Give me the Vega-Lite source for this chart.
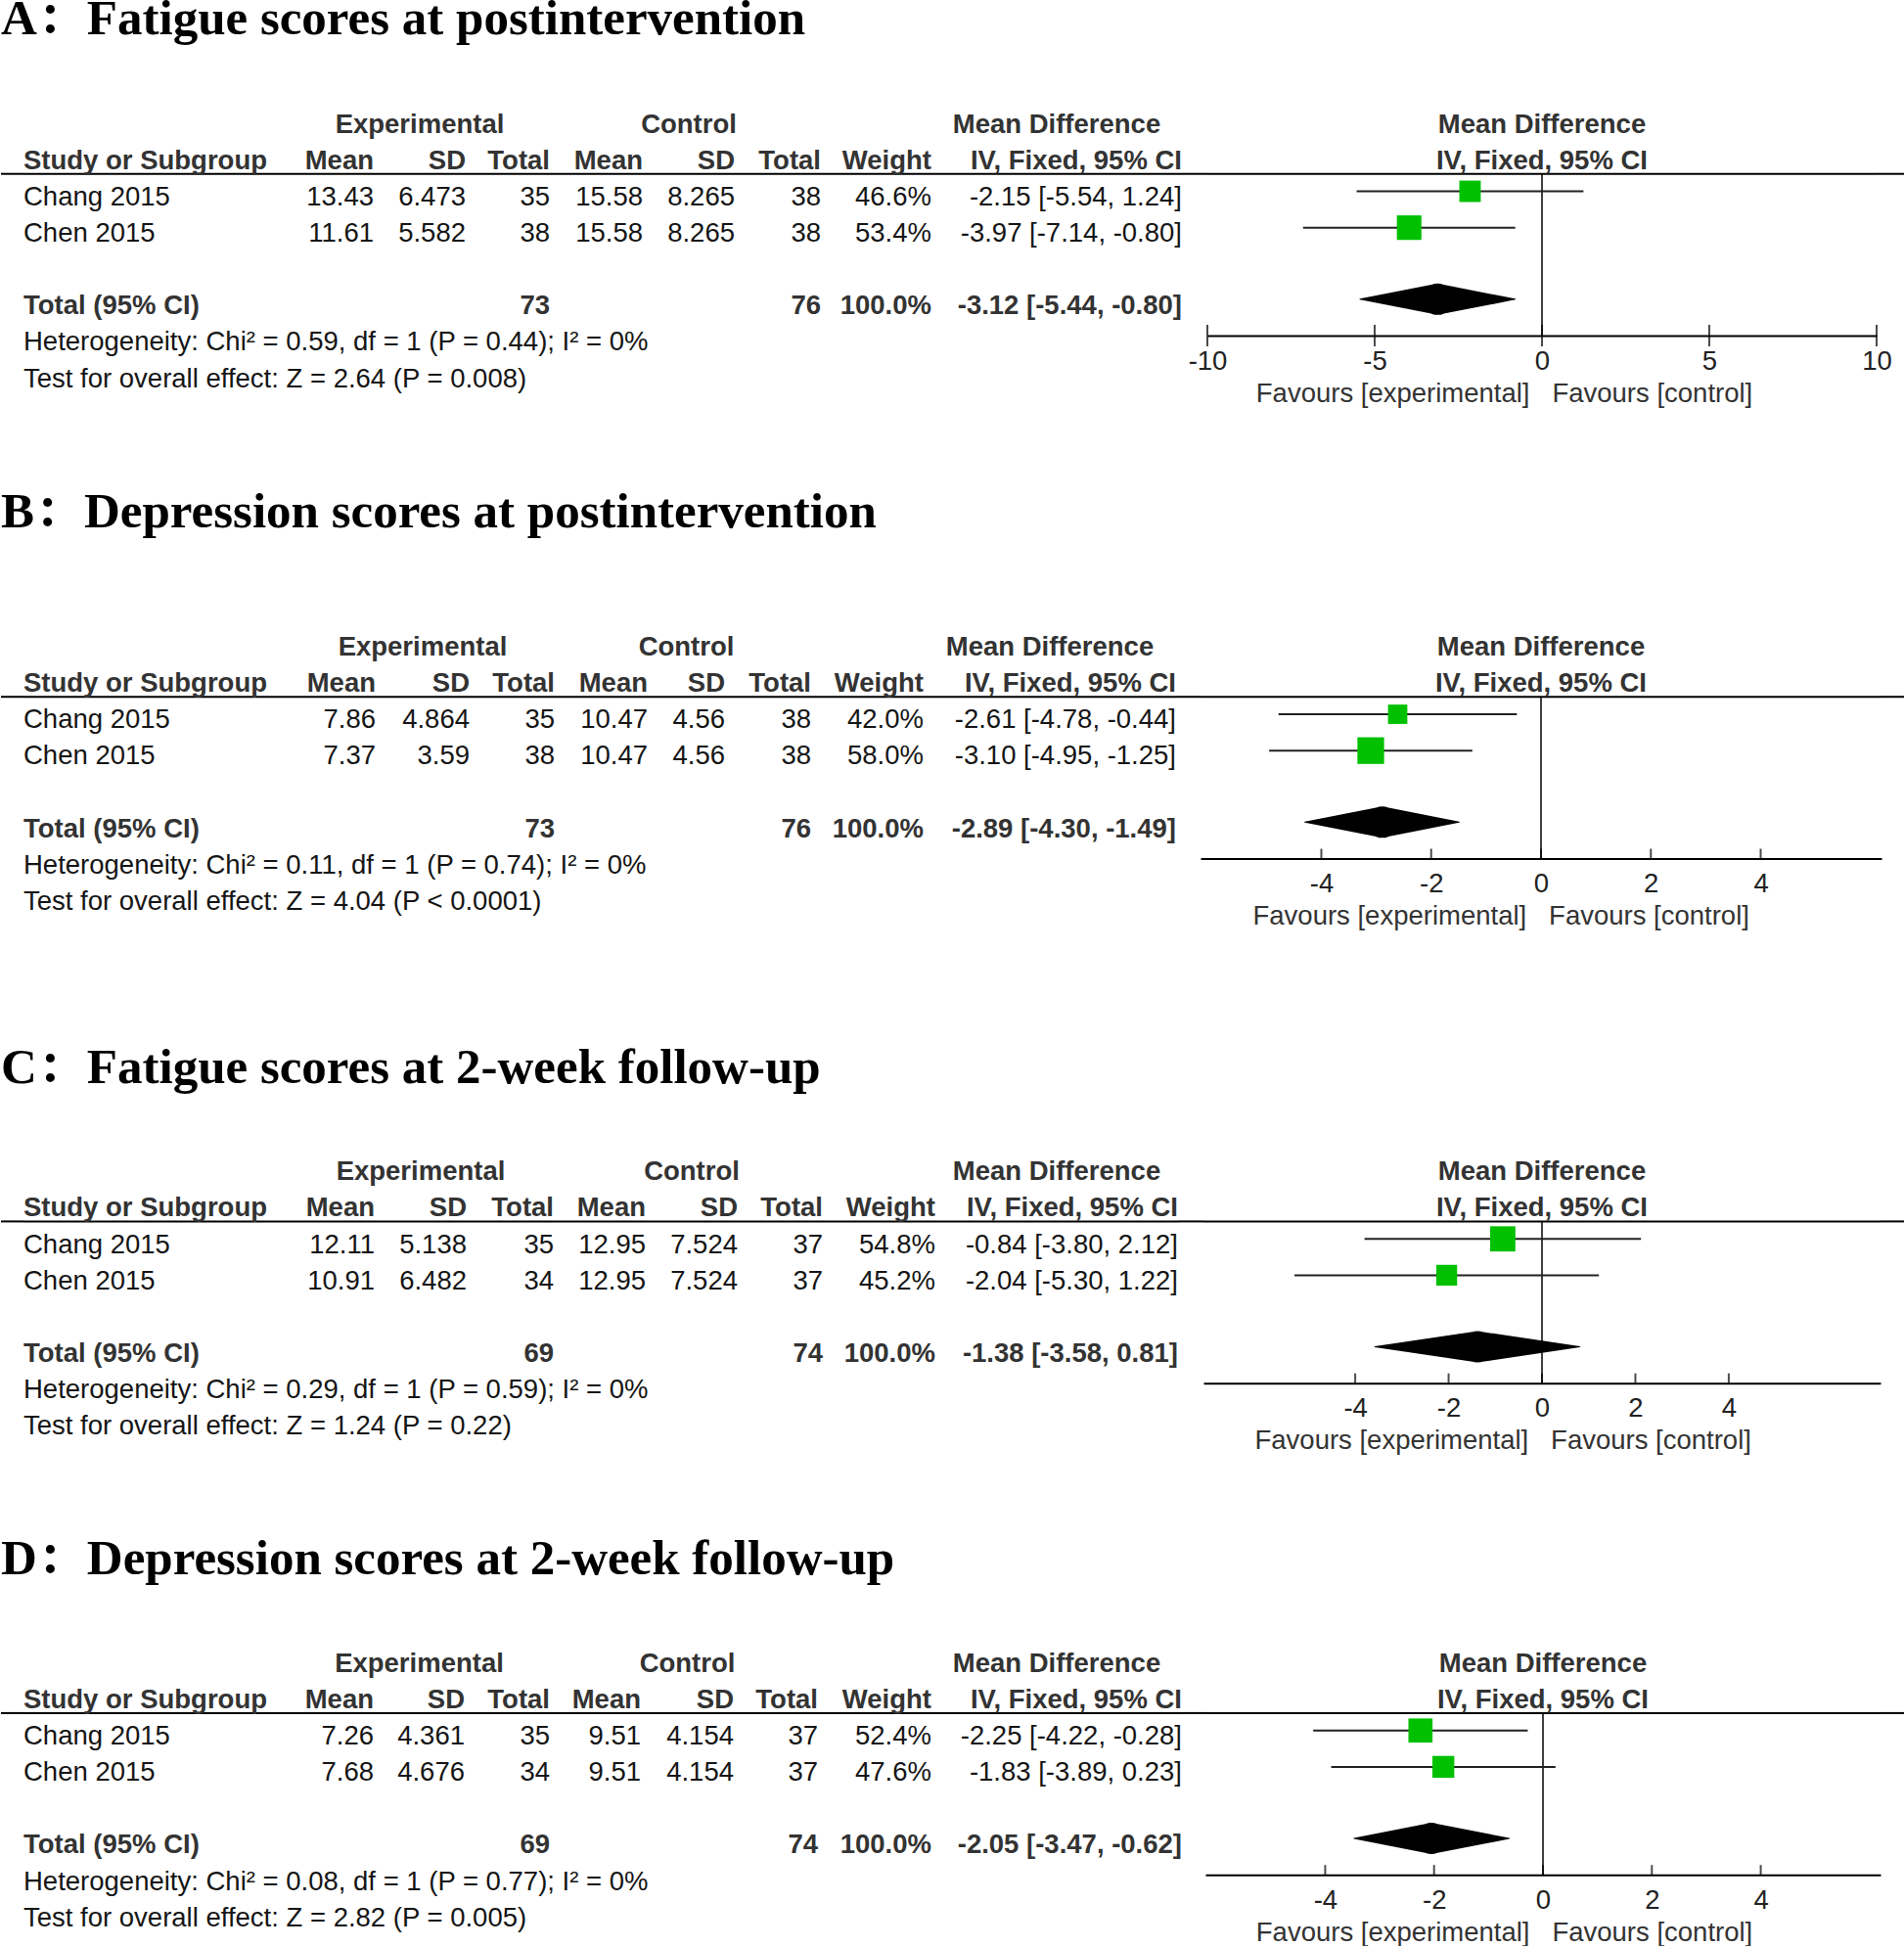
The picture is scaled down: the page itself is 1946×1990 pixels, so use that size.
{
"$schema":"https://vega.github.io/schema/vega-lite/v6.json",
"padding":{"top":-6,"left":0,"right":0,"bottom":0},
"background":"white",
"config":{
 "view":{"stroke":null},
 "text":{"font":"Liberation Sans","fontSize":27.5,"baseline":"middle","color":"#151515"},
 "title":{"font":"Liberation Serif, Noto Serif CJK SC, Noto Sans CJK SC, serif","fontSize":51,"fontWeight":"bold","color":"#000","anchor":"start","frame":"group","baseline":"alphabetic"},
 "axis":{"domainColor":"#000","domainWidth":2,"ticks":false,"grid":false,"labelFont":"Liberation Sans","labelFontSize":27.5,"labelColor":"#222","labelPadding":12,"labelFlush":false,"labelOverlap":false,"titleFont":"Liberation Sans","titleFontSize":27.5,"titleFontWeight":"normal","titleColor":"#333","titleBaseline":"top","titleAlign":"center"}
},
"datasets":{
 "header":[
  {"row":"group header","study":"","e_sd":"Experimental","c_sd":"Control","ci":"Mean Difference","plot":"Mean Difference"},
  {"row":"column header","study":"Study or Subgroup","e_mean":"Mean","e_sd":"SD","e_total":"Total","c_mean":"Mean","c_sd":"SD","c_total":"Total","weight":"Weight","ci":"IV, Fixed, 95% CI","plot":"IV, Fixed, 95% CI"}
 ],
 "studies":[
  {"panel":"A","row":"Chang 2015","e_mean":13.43,"e_sd":6.473,"e_total":35,"c_mean":15.58,"c_sd":8.265,"c_total":38,"weight":0.466,"ci":"-2.15 [-5.54, 1.24]","md":-2.15,"lo":-5.54,"hi":1.24},
  {"panel":"A","row":"Chen 2015","e_mean":11.61,"e_sd":5.582,"e_total":38,"c_mean":15.58,"c_sd":8.265,"c_total":38,"weight":0.534,"ci":"-3.97 [-7.14, -0.80]","md":-3.97,"lo":-7.14,"hi":-0.8},
  {"panel":"B","row":"Chang 2015","e_mean":7.86,"e_sd":4.864,"e_total":35,"c_mean":10.47,"c_sd":4.56,"c_total":38,"weight":0.42,"ci":"-2.61 [-4.78, -0.44]","md":-2.61,"lo":-4.78,"hi":-0.44},
  {"panel":"B","row":"Chen 2015","e_mean":7.37,"e_sd":3.59,"e_total":38,"c_mean":10.47,"c_sd":4.56,"c_total":38,"weight":0.58,"ci":"-3.10 [-4.95, -1.25]","md":-3.1,"lo":-4.95,"hi":-1.25},
  {"panel":"C","row":"Chang 2015","e_mean":12.11,"e_sd":5.138,"e_total":35,"c_mean":12.95,"c_sd":7.524,"c_total":37,"weight":0.548,"ci":"-0.84 [-3.80, 2.12]","md":-0.84,"lo":-3.8,"hi":2.12},
  {"panel":"C","row":"Chen 2015","e_mean":10.91,"e_sd":6.482,"e_total":34,"c_mean":12.95,"c_sd":7.524,"c_total":37,"weight":0.452,"ci":"-2.04 [-5.30, 1.22]","md":-2.04,"lo":-5.3,"hi":1.22},
  {"panel":"D","row":"Chang 2015","e_mean":7.26,"e_sd":4.361,"e_total":35,"c_mean":9.51,"c_sd":4.154,"c_total":37,"weight":0.524,"ci":"-2.25 [-4.22, -0.28]","md":-2.25,"lo":-4.22,"hi":-0.28},
  {"panel":"D","row":"Chen 2015","e_mean":7.68,"e_sd":4.676,"e_total":34,"c_mean":9.51,"c_sd":4.154,"c_total":37,"weight":0.476,"ci":"-1.83 [-3.89, 0.23]","md":-1.83,"lo":-3.89,"hi":0.23}
 ],
 "totals":[
  {"panel":"A","row":"Total (95% CI)","e_total":73,"c_total":76,"weight":1,"ci":"-3.12 [-5.44, -0.80]","md":-3.12,"lo":-5.44,"hi":-0.8},
  {"panel":"B","row":"Total (95% CI)","e_total":73,"c_total":76,"weight":1,"ci":"-2.89 [-4.30, -1.49]","md":-2.89,"lo":-4.3,"hi":-1.49},
  {"panel":"C","row":"Total (95% CI)","e_total":69,"c_total":74,"weight":1,"ci":"-1.38 [-3.58, 0.81]","md":-1.38,"lo":-3.58,"hi":0.81},
  {"panel":"D","row":"Total (95% CI)","e_total":69,"c_total":74,"weight":1,"ci":"-2.05 [-3.47, -0.62]","md":-2.05,"lo":-3.47,"hi":-0.62}
 ],
 "notes":[
  {"panel":"A","row":"Heterogeneity","text":"Heterogeneity: Chi² = 0.59, df = 1 (P = 0.44); I² = 0%"},
  {"panel":"A","row":"Overall effect","text":"Test for overall effect: Z = 2.64 (P = 0.008)"},
  {"panel":"B","row":"Heterogeneity","text":"Heterogeneity: Chi² = 0.11, df = 1 (P = 0.74); I² = 0%"},
  {"panel":"B","row":"Overall effect","text":"Test for overall effect: Z = 4.04 (P < 0.0001)"},
  {"panel":"C","row":"Heterogeneity","text":"Heterogeneity: Chi² = 0.29, df = 1 (P = 0.59); I² = 0%"},
  {"panel":"C","row":"Overall effect","text":"Test for overall effect: Z = 1.24 (P = 0.22)"},
  {"panel":"D","row":"Heterogeneity","text":"Heterogeneity: Chi² = 0.08, df = 1 (P = 0.77); I² = 0%"},
  {"panel":"D","row":"Overall effect","text":"Test for overall effect: Z = 2.82 (P = 0.005)"}
 ]
},
"spacing":81.5,
"vconcat":[
{
 "title":{"text":"A：Fatigue scores at postintervention","offset":63},
 "spacing":0,"bounds":"flush",
 "hconcat":[
  {"width":23,"height":297.12,"data":{"name":"header"},"transform":[{"filter":"datum.row=='column header'"}],"mark":{"type":"rule","color":"#000","strokeWidth":2},"encoding":{"y":{"field":"row","type":"nominal","axis":null,"bandPosition":0.85,"scale":{"type":"band","domain":["group header","column header","Chang 2015","Chen 2015","spacer","Total (95% CI)","Heterogeneity","Overall effect"],"range":[0,297.12],"paddingInner":0,"paddingOuter":0}}}},
  {"width":264,"height":297.12,"encoding":{"y":{"field":"row","type":"nominal","axis":null,"scale":{"type":"band","domain":["group header","column header","Chang 2015","Chen 2015","spacer","Total (95% CI)","Heterogeneity","Overall effect"],"range":[0,297.12],"paddingInner":0,"paddingOuter":0}}},"layer":[
    {"data":{"name":"header"},"transform":[{"filter":"datum.row=='column header'"}],"mark":{"type":"rule","color":"#000","strokeWidth":2},"encoding":{"y":{"field":"row","type":"nominal","axis":null,"bandPosition":0.85}}},
    {"data":{"name":"header"},"mark":{"type":"text","align":"left","fontWeight":"bold","color":"#333"},"encoding":{"x":{"value":0},"text":{"field":"study","type":"nominal"}}},
    {"data":{"name":"studies"},"transform":[{"filter":"datum.panel=='A'"}],"mark":{"type":"text","align":"left"},"encoding":{"x":{"value":0},"text":{"field":"row","type":"nominal"}}},
    {"data":{"name":"totals"},"transform":[{"filter":"datum.panel=='A'"}],"mark":{"type":"text","align":"left","fontWeight":"bold","color":"#333"},"encoding":{"x":{"value":0},"text":{"field":"row","type":"nominal"}}},
    {"data":{"name":"notes"},"transform":[{"filter":"datum.panel=='A'"}],"mark":{"type":"text","align":"left"},"encoding":{"x":{"value":0},"text":{"field":"text","type":"nominal"}}}]},
  {"width":94,"height":297.12,"encoding":{"y":{"field":"row","type":"nominal","axis":null,"scale":{"type":"band","domain":["group header","column header","Chang 2015","Chen 2015","spacer","Total (95% CI)","Heterogeneity","Overall effect"],"range":[0,297.12],"paddingInner":0,"paddingOuter":0}}},"layer":[
    {"data":{"name":"header"},"transform":[{"filter":"datum.row=='column header'"}],"mark":{"type":"rule","color":"#000","strokeWidth":2},"encoding":{"y":{"field":"row","type":"nominal","axis":null,"bandPosition":0.85}}},
    {"data":{"name":"header"},"transform":[{"filter":"datum.row=='column header'"}],"mark":{"type":"text","align":"right","fontWeight":"bold","color":"#333"},"encoding":{"x":{"value":"width"},"text":{"field":"e_mean","type":"nominal"}}},
    {"data":{"name":"studies"},"transform":[{"filter":"datum.panel=='A'"}],"mark":{"type":"text","align":"right"},"encoding":{"x":{"value":"width"},"text":{"field":"e_mean","type":"nominal"}}}]},
  {"width":94,"height":297.12,"encoding":{"y":{"field":"row","type":"nominal","axis":null,"scale":{"type":"band","domain":["group header","column header","Chang 2015","Chen 2015","spacer","Total (95% CI)","Heterogeneity","Overall effect"],"range":[0,297.12],"paddingInner":0,"paddingOuter":0}}},"layer":[
    {"data":{"name":"header"},"transform":[{"filter":"datum.row=='column header'"}],"mark":{"type":"rule","color":"#000","strokeWidth":2},"encoding":{"y":{"field":"row","type":"nominal","axis":null,"bandPosition":0.85}}},
    {"data":{"name":"header"},"transform":[{"filter":"datum.row=='group header'"}],"mark":{"type":"text","fontWeight":"bold","color":"#333"},"encoding":{"text":{"field":"e_sd","type":"nominal"}}},
    {"data":{"name":"header"},"transform":[{"filter":"datum.row=='column header'"}],"mark":{"type":"text","align":"right","fontWeight":"bold","color":"#333"},"encoding":{"x":{"value":"width"},"text":{"field":"e_sd","type":"nominal"}}},
    {"data":{"name":"studies"},"transform":[{"filter":"datum.panel=='A'"}],"mark":{"type":"text","align":"right"},"encoding":{"x":{"value":"width"},"text":{"field":"e_sd","type":"nominal"}}}]},
  {"width":86,"height":297.12,"encoding":{"y":{"field":"row","type":"nominal","axis":null,"scale":{"type":"band","domain":["group header","column header","Chang 2015","Chen 2015","spacer","Total (95% CI)","Heterogeneity","Overall effect"],"range":[0,297.12],"paddingInner":0,"paddingOuter":0}}},"layer":[
    {"data":{"name":"header"},"transform":[{"filter":"datum.row=='column header'"}],"mark":{"type":"rule","color":"#000","strokeWidth":2},"encoding":{"y":{"field":"row","type":"nominal","axis":null,"bandPosition":0.85}}},
    {"data":{"name":"header"},"transform":[{"filter":"datum.row=='column header'"}],"mark":{"type":"text","align":"right","fontWeight":"bold","color":"#333"},"encoding":{"x":{"value":"width"},"text":{"field":"e_total","type":"nominal"}}},
    {"data":{"name":"studies"},"transform":[{"filter":"datum.panel=='A'"}],"mark":{"type":"text","align":"right"},"encoding":{"x":{"value":"width"},"text":{"field":"e_total","type":"nominal"}}},
    {"data":{"name":"totals"},"transform":[{"filter":"datum.panel=='A'"}],"mark":{"type":"text","align":"right","fontWeight":"bold","color":"#333"},"encoding":{"x":{"value":"width"},"text":{"field":"e_total","type":"nominal"}}}]},
  {"width":95,"height":297.12,"encoding":{"y":{"field":"row","type":"nominal","axis":null,"scale":{"type":"band","domain":["group header","column header","Chang 2015","Chen 2015","spacer","Total (95% CI)","Heterogeneity","Overall effect"],"range":[0,297.12],"paddingInner":0,"paddingOuter":0}}},"layer":[
    {"data":{"name":"header"},"transform":[{"filter":"datum.row=='column header'"}],"mark":{"type":"rule","color":"#000","strokeWidth":2},"encoding":{"y":{"field":"row","type":"nominal","axis":null,"bandPosition":0.85}}},
    {"data":{"name":"header"},"transform":[{"filter":"datum.row=='column header'"}],"mark":{"type":"text","align":"right","fontWeight":"bold","color":"#333"},"encoding":{"x":{"value":"width"},"text":{"field":"c_mean","type":"nominal"}}},
    {"data":{"name":"studies"},"transform":[{"filter":"datum.panel=='A'"}],"mark":{"type":"text","align":"right"},"encoding":{"x":{"value":"width"},"text":{"field":"c_mean","type":"nominal"}}}]},
  {"width":94,"height":297.12,"encoding":{"y":{"field":"row","type":"nominal","axis":null,"scale":{"type":"band","domain":["group header","column header","Chang 2015","Chen 2015","spacer","Total (95% CI)","Heterogeneity","Overall effect"],"range":[0,297.12],"paddingInner":0,"paddingOuter":0}}},"layer":[
    {"data":{"name":"header"},"transform":[{"filter":"datum.row=='column header'"}],"mark":{"type":"rule","color":"#000","strokeWidth":2},"encoding":{"y":{"field":"row","type":"nominal","axis":null,"bandPosition":0.85}}},
    {"data":{"name":"header"},"transform":[{"filter":"datum.row=='group header'"}],"mark":{"type":"text","fontWeight":"bold","color":"#333"},"encoding":{"text":{"field":"c_sd","type":"nominal"}}},
    {"data":{"name":"header"},"transform":[{"filter":"datum.row=='column header'"}],"mark":{"type":"text","align":"right","fontWeight":"bold","color":"#333"},"encoding":{"x":{"value":"width"},"text":{"field":"c_sd","type":"nominal"}}},
    {"data":{"name":"studies"},"transform":[{"filter":"datum.panel=='A'"}],"mark":{"type":"text","align":"right"},"encoding":{"x":{"value":"width"},"text":{"field":"c_sd","type":"nominal"}}}]},
  {"width":88,"height":297.12,"encoding":{"y":{"field":"row","type":"nominal","axis":null,"scale":{"type":"band","domain":["group header","column header","Chang 2015","Chen 2015","spacer","Total (95% CI)","Heterogeneity","Overall effect"],"range":[0,297.12],"paddingInner":0,"paddingOuter":0}}},"layer":[
    {"data":{"name":"header"},"transform":[{"filter":"datum.row=='column header'"}],"mark":{"type":"rule","color":"#000","strokeWidth":2},"encoding":{"y":{"field":"row","type":"nominal","axis":null,"bandPosition":0.85}}},
    {"data":{"name":"header"},"transform":[{"filter":"datum.row=='column header'"}],"mark":{"type":"text","align":"right","fontWeight":"bold","color":"#333"},"encoding":{"x":{"value":"width"},"text":{"field":"c_total","type":"nominal"}}},
    {"data":{"name":"studies"},"transform":[{"filter":"datum.panel=='A'"}],"mark":{"type":"text","align":"right"},"encoding":{"x":{"value":"width"},"text":{"field":"c_total","type":"nominal"}}},
    {"data":{"name":"totals"},"transform":[{"filter":"datum.panel=='A'"}],"mark":{"type":"text","align":"right","fontWeight":"bold","color":"#333"},"encoding":{"x":{"value":"width"},"text":{"field":"c_total","type":"nominal"}}}]},
  {"width":113,"height":297.12,"encoding":{"y":{"field":"row","type":"nominal","axis":null,"scale":{"type":"band","domain":["group header","column header","Chang 2015","Chen 2015","spacer","Total (95% CI)","Heterogeneity","Overall effect"],"range":[0,297.12],"paddingInner":0,"paddingOuter":0}}},"layer":[
    {"data":{"name":"header"},"transform":[{"filter":"datum.row=='column header'"}],"mark":{"type":"rule","color":"#000","strokeWidth":2},"encoding":{"y":{"field":"row","type":"nominal","axis":null,"bandPosition":0.85}}},
    {"data":{"name":"header"},"transform":[{"filter":"datum.row=='column header'"}],"mark":{"type":"text","align":"right","fontWeight":"bold","color":"#333"},"encoding":{"x":{"value":"width"},"text":{"field":"weight","type":"nominal"}}},
    {"data":{"name":"studies"},"transform":[{"filter":"datum.panel=='A'"}],"mark":{"type":"text","align":"right"},"encoding":{"x":{"value":"width"},"text":{"field":"weight","type":"quantitative","format":".1%"}}},
    {"data":{"name":"totals"},"transform":[{"filter":"datum.panel=='A'"}],"mark":{"type":"text","align":"right","fontWeight":"bold","color":"#333"},"encoding":{"x":{"value":"width"},"text":{"field":"weight","type":"quantitative","format":".1%"}}}]},
  {"width":256,"height":297.12,"encoding":{"y":{"field":"row","type":"nominal","axis":null,"scale":{"type":"band","domain":["group header","column header","Chang 2015","Chen 2015","spacer","Total (95% CI)","Heterogeneity","Overall effect"],"range":[0,297.12],"paddingInner":0,"paddingOuter":0}}},"layer":[
    {"data":{"name":"header"},"transform":[{"filter":"datum.row=='column header'"}],"mark":{"type":"rule","color":"#000","strokeWidth":2},"encoding":{"y":{"field":"row","type":"nominal","axis":null,"bandPosition":0.85}}},
    {"data":{"name":"header"},"transform":[{"filter":"datum.row=='group header'"}],"mark":{"type":"text","fontWeight":"bold","color":"#333"},"encoding":{"text":{"field":"ci","type":"nominal"}}},
    {"data":{"name":"header"},"transform":[{"filter":"datum.row=='column header'"}],"mark":{"type":"text","align":"right","fontWeight":"bold","color":"#333"},"encoding":{"x":{"value":"width"},"text":{"field":"ci","type":"nominal"}}},
    {"data":{"name":"studies"},"transform":[{"filter":"datum.panel=='A'"}],"mark":{"type":"text","align":"right"},"encoding":{"x":{"value":"width"},"text":{"field":"ci","type":"nominal"}}},
    {"data":{"name":"totals"},"transform":[{"filter":"datum.panel=='A'"}],"mark":{"type":"text","align":"right","fontWeight":"bold","color":"#333"},"encoding":{"x":{"value":"width"},"text":{"field":"ci","type":"nominal"}}}]},
  {"width":26,"height":297.12,"data":{"name":"header"},"transform":[{"filter":"datum.row=='column header'"}],"mark":{"type":"rule","color":"#000","strokeWidth":2},"encoding":{"y":{"field":"row","type":"nominal","axis":null,"bandPosition":0.85,"scale":{"type":"band","domain":["group header","column header","Chang 2015","Chen 2015","spacer","Total (95% CI)","Heterogeneity","Overall effect"],"range":[0,297.12],"paddingInner":0,"paddingOuter":0}}}},
  {"width":684,"height":234,"resolve":{"scale":{"size":"independent"}},"encoding":{"y":{"field":"row","type":"nominal","axis":null,"scale":{"type":"band","domain":["group header","column header","Chang 2015","Chen 2015","spacer","Total (95% CI)","Heterogeneity","Overall effect"],"range":[0,297.12],"paddingInner":0,"paddingOuter":0}}},"layer":[
    {"data":{"name":"header"},"transform":[{"filter":"datum.row=='column header'"}],"mark":{"type":"rule","color":"#000","strokeWidth":2},"encoding":{"y":{"field":"row","type":"nominal","axis":null,"bandPosition":0.85}}},
    {"data":{"name":"header"},"mark":{"type":"text","fontWeight":"bold","color":"#333"},"encoding":{"text":{"field":"plot","type":"nominal"}}},
    {"data":{"name":"header"},"transform":[{"filter":"datum.row=='column header'"}],"mark":{"type":"rule","color":"#000","strokeWidth":1.5},"encoding":{"x":{"datum":0,"type":"quantitative","scale":{"domain":[-10,10],"nice":false,"zero":false}},"y":{"field":"row","type":"nominal","axis":null,"bandPosition":0.85},"y2":{"value":"height"}}},
    {"data":{"name":"studies"},"transform":[{"filter":"datum.panel=='A'"}],"mark":{"type":"rule","color":"#222","strokeWidth":2},"encoding":{"x":{"field":"lo","type":"quantitative","scale":{"domain":[-10,10],"nice":false,"zero":false},"axis":{"values":[-10,-5,0,5,10],"labelExpr":"''+datum.value","title":"Favours [experimental]\u00a0\u00a0\u00a0Favours [control]","titleX":303,"titleY":45}},"x2":{"field":"hi"},"y":{"field":"row","type":"nominal","axis":null,"bandPosition":0.33}}},
    {"data":{"name":"studies"},"transform":[{"filter":"datum.panel=='A'"}],"mark":{"type":"point","shape":"square","filled":true,"color":"#00c000","opacity":1,"strokeWidth":0},"encoding":{"x":{"field":"md","type":"quantitative","scale":{"domain":[-10,10],"nice":false,"zero":false}},"y":{"field":"row","type":"nominal","axis":null,"bandPosition":0.33},"size":{"field":"weight","type":"quantitative","scale":{"type":"pow","exponent":2,"domain":[0,1],"range":[0,2209]},"legend":null}}},
    {"data":{"name":"totals"},"transform":[{"filter":"datum.panel=='A'"},{"fold":["lo","md","hi"],"as":["vertex","x"]}],"mark":{"type":"trail","color":"#000"},"encoding":{"x":{"field":"x","type":"quantitative","scale":{"domain":[-10,10],"nice":false,"zero":false}},"y":{"field":"row","type":"nominal","axis":null,"bandPosition":0.3},"size":{"field":"vertex","type":"nominal","scale":{"type":"ordinal","domain":["lo","md","hi"],"range":[0,32,0]},"legend":null}}},
    {"data":{"values":[{"tick":-10},{"tick":-5},{"tick":0},{"tick":5},{"tick":10}]},"mark":{"type":"tick","orient":"vertical","color":"#000","thickness":2,"size":22},"encoding":{"x":{"field":"tick","type":"quantitative","scale":{"domain":[-10,10],"nice":false,"zero":false}},"y":{"value":"height"}}}]},
  {"width":29,"height":297.12,"data":{"name":"header"},"transform":[{"filter":"datum.row=='column header'"}],"mark":{"type":"rule","color":"#000","strokeWidth":2},"encoding":{"y":{"field":"row","type":"nominal","axis":null,"bandPosition":0.85,"scale":{"type":"band","domain":["group header","column header","Chang 2015","Chen 2015","spacer","Total (95% CI)","Heterogeneity","Overall effect"],"range":[0,297.12],"paddingInner":0,"paddingOuter":0}}}}
 ]
},
{"spacing":115.2,"vconcat":[
{
 "title":{"text":"B：Depression scores at postintervention","offset":93.6},
 "spacing":0,"bounds":"flush",
 "hconcat":[
  {"width":23,"height":297.12,"data":{"name":"header"},"transform":[{"filter":"datum.row=='column header'"}],"mark":{"type":"rule","color":"#000","strokeWidth":2},"encoding":{"y":{"field":"row","type":"nominal","axis":null,"bandPosition":0.85,"scale":{"type":"band","domain":["group header","column header","Chang 2015","Chen 2015","spacer","Total (95% CI)","Heterogeneity","Overall effect"],"range":[0,297.12],"paddingInner":0,"paddingOuter":0}}}},
  {"width":264,"height":297.12,"encoding":{"y":{"field":"row","type":"nominal","axis":null,"scale":{"type":"band","domain":["group header","column header","Chang 2015","Chen 2015","spacer","Total (95% CI)","Heterogeneity","Overall effect"],"range":[0,297.12],"paddingInner":0,"paddingOuter":0}}},"layer":[
    {"data":{"name":"header"},"transform":[{"filter":"datum.row=='column header'"}],"mark":{"type":"rule","color":"#000","strokeWidth":2},"encoding":{"y":{"field":"row","type":"nominal","axis":null,"bandPosition":0.85}}},
    {"data":{"name":"header"},"mark":{"type":"text","align":"left","fontWeight":"bold","color":"#333"},"encoding":{"x":{"value":0},"text":{"field":"study","type":"nominal"}}},
    {"data":{"name":"studies"},"transform":[{"filter":"datum.panel=='B'"}],"mark":{"type":"text","align":"left"},"encoding":{"x":{"value":0},"text":{"field":"row","type":"nominal"}}},
    {"data":{"name":"totals"},"transform":[{"filter":"datum.panel=='B'"}],"mark":{"type":"text","align":"left","fontWeight":"bold","color":"#333"},"encoding":{"x":{"value":0},"text":{"field":"row","type":"nominal"}}},
    {"data":{"name":"notes"},"transform":[{"filter":"datum.panel=='B'"}],"mark":{"type":"text","align":"left"},"encoding":{"x":{"value":0},"text":{"field":"text","type":"nominal"}}}]},
  {"width":96,"height":297.12,"encoding":{"y":{"field":"row","type":"nominal","axis":null,"scale":{"type":"band","domain":["group header","column header","Chang 2015","Chen 2015","spacer","Total (95% CI)","Heterogeneity","Overall effect"],"range":[0,297.12],"paddingInner":0,"paddingOuter":0}}},"layer":[
    {"data":{"name":"header"},"transform":[{"filter":"datum.row=='column header'"}],"mark":{"type":"rule","color":"#000","strokeWidth":2},"encoding":{"y":{"field":"row","type":"nominal","axis":null,"bandPosition":0.85}}},
    {"data":{"name":"header"},"transform":[{"filter":"datum.row=='column header'"}],"mark":{"type":"text","align":"right","fontWeight":"bold","color":"#333"},"encoding":{"x":{"value":"width"},"text":{"field":"e_mean","type":"nominal"}}},
    {"data":{"name":"studies"},"transform":[{"filter":"datum.panel=='B'"}],"mark":{"type":"text","align":"right"},"encoding":{"x":{"value":"width"},"text":{"field":"e_mean","type":"nominal"}}}]},
  {"width":96,"height":297.12,"encoding":{"y":{"field":"row","type":"nominal","axis":null,"scale":{"type":"band","domain":["group header","column header","Chang 2015","Chen 2015","spacer","Total (95% CI)","Heterogeneity","Overall effect"],"range":[0,297.12],"paddingInner":0,"paddingOuter":0}}},"layer":[
    {"data":{"name":"header"},"transform":[{"filter":"datum.row=='column header'"}],"mark":{"type":"rule","color":"#000","strokeWidth":2},"encoding":{"y":{"field":"row","type":"nominal","axis":null,"bandPosition":0.85}}},
    {"data":{"name":"header"},"transform":[{"filter":"datum.row=='group header'"}],"mark":{"type":"text","fontWeight":"bold","color":"#333"},"encoding":{"text":{"field":"e_sd","type":"nominal"}}},
    {"data":{"name":"header"},"transform":[{"filter":"datum.row=='column header'"}],"mark":{"type":"text","align":"right","fontWeight":"bold","color":"#333"},"encoding":{"x":{"value":"width"},"text":{"field":"e_sd","type":"nominal"}}},
    {"data":{"name":"studies"},"transform":[{"filter":"datum.panel=='B'"}],"mark":{"type":"text","align":"right"},"encoding":{"x":{"value":"width"},"text":{"field":"e_sd","type":"nominal"}}}]},
  {"width":87,"height":297.12,"encoding":{"y":{"field":"row","type":"nominal","axis":null,"scale":{"type":"band","domain":["group header","column header","Chang 2015","Chen 2015","spacer","Total (95% CI)","Heterogeneity","Overall effect"],"range":[0,297.12],"paddingInner":0,"paddingOuter":0}}},"layer":[
    {"data":{"name":"header"},"transform":[{"filter":"datum.row=='column header'"}],"mark":{"type":"rule","color":"#000","strokeWidth":2},"encoding":{"y":{"field":"row","type":"nominal","axis":null,"bandPosition":0.85}}},
    {"data":{"name":"header"},"transform":[{"filter":"datum.row=='column header'"}],"mark":{"type":"text","align":"right","fontWeight":"bold","color":"#333"},"encoding":{"x":{"value":"width"},"text":{"field":"e_total","type":"nominal"}}},
    {"data":{"name":"studies"},"transform":[{"filter":"datum.panel=='B'"}],"mark":{"type":"text","align":"right"},"encoding":{"x":{"value":"width"},"text":{"field":"e_total","type":"nominal"}}},
    {"data":{"name":"totals"},"transform":[{"filter":"datum.panel=='B'"}],"mark":{"type":"text","align":"right","fontWeight":"bold","color":"#333"},"encoding":{"x":{"value":"width"},"text":{"field":"e_total","type":"nominal"}}}]},
  {"width":95,"height":297.12,"encoding":{"y":{"field":"row","type":"nominal","axis":null,"scale":{"type":"band","domain":["group header","column header","Chang 2015","Chen 2015","spacer","Total (95% CI)","Heterogeneity","Overall effect"],"range":[0,297.12],"paddingInner":0,"paddingOuter":0}}},"layer":[
    {"data":{"name":"header"},"transform":[{"filter":"datum.row=='column header'"}],"mark":{"type":"rule","color":"#000","strokeWidth":2},"encoding":{"y":{"field":"row","type":"nominal","axis":null,"bandPosition":0.85}}},
    {"data":{"name":"header"},"transform":[{"filter":"datum.row=='column header'"}],"mark":{"type":"text","align":"right","fontWeight":"bold","color":"#333"},"encoding":{"x":{"value":"width"},"text":{"field":"c_mean","type":"nominal"}}},
    {"data":{"name":"studies"},"transform":[{"filter":"datum.panel=='B'"}],"mark":{"type":"text","align":"right"},"encoding":{"x":{"value":"width"},"text":{"field":"c_mean","type":"nominal"}}}]},
  {"width":79,"height":297.12,"encoding":{"y":{"field":"row","type":"nominal","axis":null,"scale":{"type":"band","domain":["group header","column header","Chang 2015","Chen 2015","spacer","Total (95% CI)","Heterogeneity","Overall effect"],"range":[0,297.12],"paddingInner":0,"paddingOuter":0}}},"layer":[
    {"data":{"name":"header"},"transform":[{"filter":"datum.row=='column header'"}],"mark":{"type":"rule","color":"#000","strokeWidth":2},"encoding":{"y":{"field":"row","type":"nominal","axis":null,"bandPosition":0.85}}},
    {"data":{"name":"header"},"transform":[{"filter":"datum.row=='group header'"}],"mark":{"type":"text","fontWeight":"bold","color":"#333"},"encoding":{"text":{"field":"c_sd","type":"nominal"}}},
    {"data":{"name":"header"},"transform":[{"filter":"datum.row=='column header'"}],"mark":{"type":"text","align":"right","fontWeight":"bold","color":"#333"},"encoding":{"x":{"value":"width"},"text":{"field":"c_sd","type":"nominal"}}},
    {"data":{"name":"studies"},"transform":[{"filter":"datum.panel=='B'"}],"mark":{"type":"text","align":"right"},"encoding":{"x":{"value":"width"},"text":{"field":"c_sd","type":"nominal"}}}]},
  {"width":88,"height":297.12,"encoding":{"y":{"field":"row","type":"nominal","axis":null,"scale":{"type":"band","domain":["group header","column header","Chang 2015","Chen 2015","spacer","Total (95% CI)","Heterogeneity","Overall effect"],"range":[0,297.12],"paddingInner":0,"paddingOuter":0}}},"layer":[
    {"data":{"name":"header"},"transform":[{"filter":"datum.row=='column header'"}],"mark":{"type":"rule","color":"#000","strokeWidth":2},"encoding":{"y":{"field":"row","type":"nominal","axis":null,"bandPosition":0.85}}},
    {"data":{"name":"header"},"transform":[{"filter":"datum.row=='column header'"}],"mark":{"type":"text","align":"right","fontWeight":"bold","color":"#333"},"encoding":{"x":{"value":"width"},"text":{"field":"c_total","type":"nominal"}}},
    {"data":{"name":"studies"},"transform":[{"filter":"datum.panel=='B'"}],"mark":{"type":"text","align":"right"},"encoding":{"x":{"value":"width"},"text":{"field":"c_total","type":"nominal"}}},
    {"data":{"name":"totals"},"transform":[{"filter":"datum.panel=='B'"}],"mark":{"type":"text","align":"right","fontWeight":"bold","color":"#333"},"encoding":{"x":{"value":"width"},"text":{"field":"c_total","type":"nominal"}}}]},
  {"width":115,"height":297.12,"encoding":{"y":{"field":"row","type":"nominal","axis":null,"scale":{"type":"band","domain":["group header","column header","Chang 2015","Chen 2015","spacer","Total (95% CI)","Heterogeneity","Overall effect"],"range":[0,297.12],"paddingInner":0,"paddingOuter":0}}},"layer":[
    {"data":{"name":"header"},"transform":[{"filter":"datum.row=='column header'"}],"mark":{"type":"rule","color":"#000","strokeWidth":2},"encoding":{"y":{"field":"row","type":"nominal","axis":null,"bandPosition":0.85}}},
    {"data":{"name":"header"},"transform":[{"filter":"datum.row=='column header'"}],"mark":{"type":"text","align":"right","fontWeight":"bold","color":"#333"},"encoding":{"x":{"value":"width"},"text":{"field":"weight","type":"nominal"}}},
    {"data":{"name":"studies"},"transform":[{"filter":"datum.panel=='B'"}],"mark":{"type":"text","align":"right"},"encoding":{"x":{"value":"width"},"text":{"field":"weight","type":"quantitative","format":".1%"}}},
    {"data":{"name":"totals"},"transform":[{"filter":"datum.panel=='B'"}],"mark":{"type":"text","align":"right","fontWeight":"bold","color":"#333"},"encoding":{"x":{"value":"width"},"text":{"field":"weight","type":"quantitative","format":".1%"}}}]},
  {"width":258,"height":297.12,"encoding":{"y":{"field":"row","type":"nominal","axis":null,"scale":{"type":"band","domain":["group header","column header","Chang 2015","Chen 2015","spacer","Total (95% CI)","Heterogeneity","Overall effect"],"range":[0,297.12],"paddingInner":0,"paddingOuter":0}}},"layer":[
    {"data":{"name":"header"},"transform":[{"filter":"datum.row=='column header'"}],"mark":{"type":"rule","color":"#000","strokeWidth":2},"encoding":{"y":{"field":"row","type":"nominal","axis":null,"bandPosition":0.85}}},
    {"data":{"name":"header"},"transform":[{"filter":"datum.row=='group header'"}],"mark":{"type":"text","fontWeight":"bold","color":"#333"},"encoding":{"text":{"field":"ci","type":"nominal"}}},
    {"data":{"name":"header"},"transform":[{"filter":"datum.row=='column header'"}],"mark":{"type":"text","align":"right","fontWeight":"bold","color":"#333"},"encoding":{"x":{"value":"width"},"text":{"field":"ci","type":"nominal"}}},
    {"data":{"name":"studies"},"transform":[{"filter":"datum.panel=='B'"}],"mark":{"type":"text","align":"right"},"encoding":{"x":{"value":"width"},"text":{"field":"ci","type":"nominal"}}},
    {"data":{"name":"totals"},"transform":[{"filter":"datum.panel=='B'"}],"mark":{"type":"text","align":"right","fontWeight":"bold","color":"#333"},"encoding":{"x":{"value":"width"},"text":{"field":"ci","type":"nominal"}}}]},
  {"width":25,"height":297.12,"data":{"name":"header"},"transform":[{"filter":"datum.row=='column header'"}],"mark":{"type":"rule","color":"#000","strokeWidth":2},"encoding":{"y":{"field":"row","type":"nominal","axis":null,"bandPosition":0.85,"scale":{"type":"band","domain":["group header","column header","Chang 2015","Chen 2015","spacer","Total (95% CI)","Heterogeneity","Overall effect"],"range":[0,297.12],"paddingInner":0,"paddingOuter":0}}}},
  {"width":696,"height":234,"resolve":{"scale":{"size":"independent"}},"encoding":{"y":{"field":"row","type":"nominal","axis":null,"scale":{"type":"band","domain":["group header","column header","Chang 2015","Chen 2015","spacer","Total (95% CI)","Heterogeneity","Overall effect"],"range":[0,297.12],"paddingInner":0,"paddingOuter":0}}},"layer":[
    {"data":{"name":"header"},"transform":[{"filter":"datum.row=='column header'"}],"mark":{"type":"rule","color":"#000","strokeWidth":2},"encoding":{"y":{"field":"row","type":"nominal","axis":null,"bandPosition":0.85}}},
    {"data":{"name":"header"},"mark":{"type":"text","fontWeight":"bold","color":"#333"},"encoding":{"text":{"field":"plot","type":"nominal"}}},
    {"data":{"name":"header"},"transform":[{"filter":"datum.row=='column header'"}],"mark":{"type":"rule","color":"#000","strokeWidth":1.5},"encoding":{"x":{"datum":0,"type":"quantitative","scale":{"domain":[-6.2,6.2],"nice":false,"zero":false}},"y":{"field":"row","type":"nominal","axis":null,"bandPosition":0.85},"y2":{"value":"height"}}},
    {"data":{"name":"studies"},"transform":[{"filter":"datum.panel=='B'"}],"mark":{"type":"rule","color":"#222","strokeWidth":2},"encoding":{"x":{"field":"lo","type":"quantitative","scale":{"domain":[-6.2,6.2],"nice":false,"zero":false},"axis":{"values":[-4,-2,0,2,4],"labelExpr":"''+datum.value","title":"Favours [experimental]\u00a0\u00a0\u00a0Favours [control]","titleX":306.7,"titleY":45}},"x2":{"field":"hi"},"y":{"field":"row","type":"nominal","axis":null,"bandPosition":0.33}}},
    {"data":{"name":"studies"},"transform":[{"filter":"datum.panel=='B'"}],"mark":{"type":"point","shape":"square","filled":true,"color":"#00c000","opacity":1,"strokeWidth":0},"encoding":{"x":{"field":"md","type":"quantitative","scale":{"domain":[-6.2,6.2],"nice":false,"zero":false}},"y":{"field":"row","type":"nominal","axis":null,"bandPosition":0.33},"size":{"field":"weight","type":"quantitative","scale":{"type":"pow","exponent":2,"domain":[0,1],"range":[0,2209]},"legend":null}}},
    {"data":{"name":"totals"},"transform":[{"filter":"datum.panel=='B'"},{"fold":["lo","md","hi"],"as":["vertex","x"]}],"mark":{"type":"trail","color":"#000"},"encoding":{"x":{"field":"x","type":"quantitative","scale":{"domain":[-6.2,6.2],"nice":false,"zero":false}},"y":{"field":"row","type":"nominal","axis":null,"bandPosition":0.3},"size":{"field":"vertex","type":"nominal","scale":{"type":"ordinal","domain":["lo","md","hi"],"range":[0,32,0]},"legend":null}}},
    {"data":{"values":[{"tick":-4},{"tick":-2},{"tick":0},{"tick":2},{"tick":4}]},"mark":{"type":"tick","orient":"vertical","color":"#000","thickness":2,"size":10,"yOffset":-5},"encoding":{"x":{"field":"tick","type":"quantitative","scale":{"domain":[-6.2,6.2],"nice":false,"zero":false}},"y":{"value":"height"}}}]},
  {"width":24,"height":297.12,"data":{"name":"header"},"transform":[{"filter":"datum.row=='column header'"}],"mark":{"type":"rule","color":"#000","strokeWidth":2},"encoding":{"y":{"field":"row","type":"nominal","axis":null,"bandPosition":0.85,"scale":{"type":"band","domain":["group header","column header","Chang 2015","Chen 2015","spacer","Total (95% CI)","Heterogeneity","Overall effect"],"range":[0,297.12],"paddingInner":0,"paddingOuter":0}}}}
 ]
},
{"spacing":81.5,"vconcat":[
{
 "title":{"text":"C：Fatigue scores at 2-week follow-up","offset":61.3},
 "spacing":0,"bounds":"flush",
 "hconcat":[
  {"width":23,"height":297.12,"data":{"name":"header"},"transform":[{"filter":"datum.row=='column header'"}],"mark":{"type":"rule","color":"#000","strokeWidth":2},"encoding":{"y":{"field":"row","type":"nominal","axis":null,"bandPosition":0.85,"scale":{"type":"band","domain":["group header","column header","Chang 2015","Chen 2015","spacer","Total (95% CI)","Heterogeneity","Overall effect"],"range":[0,297.12],"paddingInner":0,"paddingOuter":0}}}},
  {"width":264,"height":297.12,"encoding":{"y":{"field":"row","type":"nominal","axis":null,"scale":{"type":"band","domain":["group header","column header","Chang 2015","Chen 2015","spacer","Total (95% CI)","Heterogeneity","Overall effect"],"range":[0,297.12],"paddingInner":0,"paddingOuter":0}}},"layer":[
    {"data":{"name":"header"},"transform":[{"filter":"datum.row=='column header'"}],"mark":{"type":"rule","color":"#000","strokeWidth":2},"encoding":{"y":{"field":"row","type":"nominal","axis":null,"bandPosition":0.85}}},
    {"data":{"name":"header"},"mark":{"type":"text","align":"left","fontWeight":"bold","color":"#333"},"encoding":{"x":{"value":0},"text":{"field":"study","type":"nominal"}}},
    {"data":{"name":"studies"},"transform":[{"filter":"datum.panel=='C'"}],"mark":{"type":"text","align":"left"},"encoding":{"x":{"value":0},"text":{"field":"row","type":"nominal"}}},
    {"data":{"name":"totals"},"transform":[{"filter":"datum.panel=='C'"}],"mark":{"type":"text","align":"left","fontWeight":"bold","color":"#333"},"encoding":{"x":{"value":0},"text":{"field":"row","type":"nominal"}}},
    {"data":{"name":"notes"},"transform":[{"filter":"datum.panel=='C'"}],"mark":{"type":"text","align":"left"},"encoding":{"x":{"value":0},"text":{"field":"text","type":"nominal"}}}]},
  {"width":95,"height":297.12,"encoding":{"y":{"field":"row","type":"nominal","axis":null,"scale":{"type":"band","domain":["group header","column header","Chang 2015","Chen 2015","spacer","Total (95% CI)","Heterogeneity","Overall effect"],"range":[0,297.12],"paddingInner":0,"paddingOuter":0}}},"layer":[
    {"data":{"name":"header"},"transform":[{"filter":"datum.row=='column header'"}],"mark":{"type":"rule","color":"#000","strokeWidth":2},"encoding":{"y":{"field":"row","type":"nominal","axis":null,"bandPosition":0.85}}},
    {"data":{"name":"header"},"transform":[{"filter":"datum.row=='column header'"}],"mark":{"type":"text","align":"right","fontWeight":"bold","color":"#333"},"encoding":{"x":{"value":"width"},"text":{"field":"e_mean","type":"nominal"}}},
    {"data":{"name":"studies"},"transform":[{"filter":"datum.panel=='C'"}],"mark":{"type":"text","align":"right"},"encoding":{"x":{"value":"width"},"text":{"field":"e_mean","type":"nominal"}}}]},
  {"width":94,"height":297.12,"encoding":{"y":{"field":"row","type":"nominal","axis":null,"scale":{"type":"band","domain":["group header","column header","Chang 2015","Chen 2015","spacer","Total (95% CI)","Heterogeneity","Overall effect"],"range":[0,297.12],"paddingInner":0,"paddingOuter":0}}},"layer":[
    {"data":{"name":"header"},"transform":[{"filter":"datum.row=='column header'"}],"mark":{"type":"rule","color":"#000","strokeWidth":2},"encoding":{"y":{"field":"row","type":"nominal","axis":null,"bandPosition":0.85}}},
    {"data":{"name":"header"},"transform":[{"filter":"datum.row=='group header'"}],"mark":{"type":"text","fontWeight":"bold","color":"#333"},"encoding":{"text":{"field":"e_sd","type":"nominal"}}},
    {"data":{"name":"header"},"transform":[{"filter":"datum.row=='column header'"}],"mark":{"type":"text","align":"right","fontWeight":"bold","color":"#333"},"encoding":{"x":{"value":"width"},"text":{"field":"e_sd","type":"nominal"}}},
    {"data":{"name":"studies"},"transform":[{"filter":"datum.panel=='C'"}],"mark":{"type":"text","align":"right"},"encoding":{"x":{"value":"width"},"text":{"field":"e_sd","type":"nominal"}}}]},
  {"width":89,"height":297.12,"encoding":{"y":{"field":"row","type":"nominal","axis":null,"scale":{"type":"band","domain":["group header","column header","Chang 2015","Chen 2015","spacer","Total (95% CI)","Heterogeneity","Overall effect"],"range":[0,297.12],"paddingInner":0,"paddingOuter":0}}},"layer":[
    {"data":{"name":"header"},"transform":[{"filter":"datum.row=='column header'"}],"mark":{"type":"rule","color":"#000","strokeWidth":2},"encoding":{"y":{"field":"row","type":"nominal","axis":null,"bandPosition":0.85}}},
    {"data":{"name":"header"},"transform":[{"filter":"datum.row=='column header'"}],"mark":{"type":"text","align":"right","fontWeight":"bold","color":"#333"},"encoding":{"x":{"value":"width"},"text":{"field":"e_total","type":"nominal"}}},
    {"data":{"name":"studies"},"transform":[{"filter":"datum.panel=='C'"}],"mark":{"type":"text","align":"right"},"encoding":{"x":{"value":"width"},"text":{"field":"e_total","type":"nominal"}}},
    {"data":{"name":"totals"},"transform":[{"filter":"datum.panel=='C'"}],"mark":{"type":"text","align":"right","fontWeight":"bold","color":"#333"},"encoding":{"x":{"value":"width"},"text":{"field":"e_total","type":"nominal"}}}]},
  {"width":94,"height":297.12,"encoding":{"y":{"field":"row","type":"nominal","axis":null,"scale":{"type":"band","domain":["group header","column header","Chang 2015","Chen 2015","spacer","Total (95% CI)","Heterogeneity","Overall effect"],"range":[0,297.12],"paddingInner":0,"paddingOuter":0}}},"layer":[
    {"data":{"name":"header"},"transform":[{"filter":"datum.row=='column header'"}],"mark":{"type":"rule","color":"#000","strokeWidth":2},"encoding":{"y":{"field":"row","type":"nominal","axis":null,"bandPosition":0.85}}},
    {"data":{"name":"header"},"transform":[{"filter":"datum.row=='column header'"}],"mark":{"type":"text","align":"right","fontWeight":"bold","color":"#333"},"encoding":{"x":{"value":"width"},"text":{"field":"c_mean","type":"nominal"}}},
    {"data":{"name":"studies"},"transform":[{"filter":"datum.panel=='C'"}],"mark":{"type":"text","align":"right"},"encoding":{"x":{"value":"width"},"text":{"field":"c_mean","type":"nominal"}}}]},
  {"width":94,"height":297.12,"encoding":{"y":{"field":"row","type":"nominal","axis":null,"scale":{"type":"band","domain":["group header","column header","Chang 2015","Chen 2015","spacer","Total (95% CI)","Heterogeneity","Overall effect"],"range":[0,297.12],"paddingInner":0,"paddingOuter":0}}},"layer":[
    {"data":{"name":"header"},"transform":[{"filter":"datum.row=='column header'"}],"mark":{"type":"rule","color":"#000","strokeWidth":2},"encoding":{"y":{"field":"row","type":"nominal","axis":null,"bandPosition":0.85}}},
    {"data":{"name":"header"},"transform":[{"filter":"datum.row=='group header'"}],"mark":{"type":"text","fontWeight":"bold","color":"#333"},"encoding":{"text":{"field":"c_sd","type":"nominal"}}},
    {"data":{"name":"header"},"transform":[{"filter":"datum.row=='column header'"}],"mark":{"type":"text","align":"right","fontWeight":"bold","color":"#333"},"encoding":{"x":{"value":"width"},"text":{"field":"c_sd","type":"nominal"}}},
    {"data":{"name":"studies"},"transform":[{"filter":"datum.panel=='C'"}],"mark":{"type":"text","align":"right"},"encoding":{"x":{"value":"width"},"text":{"field":"c_sd","type":"nominal"}}}]},
  {"width":87,"height":297.12,"encoding":{"y":{"field":"row","type":"nominal","axis":null,"scale":{"type":"band","domain":["group header","column header","Chang 2015","Chen 2015","spacer","Total (95% CI)","Heterogeneity","Overall effect"],"range":[0,297.12],"paddingInner":0,"paddingOuter":0}}},"layer":[
    {"data":{"name":"header"},"transform":[{"filter":"datum.row=='column header'"}],"mark":{"type":"rule","color":"#000","strokeWidth":2},"encoding":{"y":{"field":"row","type":"nominal","axis":null,"bandPosition":0.85}}},
    {"data":{"name":"header"},"transform":[{"filter":"datum.row=='column header'"}],"mark":{"type":"text","align":"right","fontWeight":"bold","color":"#333"},"encoding":{"x":{"value":"width"},"text":{"field":"c_total","type":"nominal"}}},
    {"data":{"name":"studies"},"transform":[{"filter":"datum.panel=='C'"}],"mark":{"type":"text","align":"right"},"encoding":{"x":{"value":"width"},"text":{"field":"c_total","type":"nominal"}}},
    {"data":{"name":"totals"},"transform":[{"filter":"datum.panel=='C'"}],"mark":{"type":"text","align":"right","fontWeight":"bold","color":"#333"},"encoding":{"x":{"value":"width"},"text":{"field":"c_total","type":"nominal"}}}]},
  {"width":115,"height":297.12,"encoding":{"y":{"field":"row","type":"nominal","axis":null,"scale":{"type":"band","domain":["group header","column header","Chang 2015","Chen 2015","spacer","Total (95% CI)","Heterogeneity","Overall effect"],"range":[0,297.12],"paddingInner":0,"paddingOuter":0}}},"layer":[
    {"data":{"name":"header"},"transform":[{"filter":"datum.row=='column header'"}],"mark":{"type":"rule","color":"#000","strokeWidth":2},"encoding":{"y":{"field":"row","type":"nominal","axis":null,"bandPosition":0.85}}},
    {"data":{"name":"header"},"transform":[{"filter":"datum.row=='column header'"}],"mark":{"type":"text","align":"right","fontWeight":"bold","color":"#333"},"encoding":{"x":{"value":"width"},"text":{"field":"weight","type":"nominal"}}},
    {"data":{"name":"studies"},"transform":[{"filter":"datum.panel=='C'"}],"mark":{"type":"text","align":"right"},"encoding":{"x":{"value":"width"},"text":{"field":"weight","type":"quantitative","format":".1%"}}},
    {"data":{"name":"totals"},"transform":[{"filter":"datum.panel=='C'"}],"mark":{"type":"text","align":"right","fontWeight":"bold","color":"#333"},"encoding":{"x":{"value":"width"},"text":{"field":"weight","type":"quantitative","format":".1%"}}}]},
  {"width":248,"height":297.12,"encoding":{"y":{"field":"row","type":"nominal","axis":null,"scale":{"type":"band","domain":["group header","column header","Chang 2015","Chen 2015","spacer","Total (95% CI)","Heterogeneity","Overall effect"],"range":[0,297.12],"paddingInner":0,"paddingOuter":0}}},"layer":[
    {"data":{"name":"header"},"transform":[{"filter":"datum.row=='column header'"}],"mark":{"type":"rule","color":"#000","strokeWidth":2},"encoding":{"y":{"field":"row","type":"nominal","axis":null,"bandPosition":0.85}}},
    {"data":{"name":"header"},"transform":[{"filter":"datum.row=='group header'"}],"mark":{"type":"text","fontWeight":"bold","color":"#333"},"encoding":{"text":{"field":"ci","type":"nominal"}}},
    {"data":{"name":"header"},"transform":[{"filter":"datum.row=='column header'"}],"mark":{"type":"text","align":"right","fontWeight":"bold","color":"#333"},"encoding":{"x":{"value":"width"},"text":{"field":"ci","type":"nominal"}}},
    {"data":{"name":"studies"},"transform":[{"filter":"datum.panel=='C'"}],"mark":{"type":"text","align":"right"},"encoding":{"x":{"value":"width"},"text":{"field":"ci","type":"nominal"}}},
    {"data":{"name":"totals"},"transform":[{"filter":"datum.panel=='C'"}],"mark":{"type":"text","align":"right","fontWeight":"bold","color":"#333"},"encoding":{"x":{"value":"width"},"text":{"field":"ci","type":"nominal"}}}]},
  {"width":26,"height":297.12,"data":{"name":"header"},"transform":[{"filter":"datum.row=='column header'"}],"mark":{"type":"rule","color":"#000","strokeWidth":2},"encoding":{"y":{"field":"row","type":"nominal","axis":null,"bandPosition":0.85,"scale":{"type":"band","domain":["group header","column header","Chang 2015","Chen 2015","spacer","Total (95% CI)","Heterogeneity","Overall effect"],"range":[0,297.12],"paddingInner":0,"paddingOuter":0}}}},
  {"width":692,"height":234,"resolve":{"scale":{"size":"independent"}},"encoding":{"y":{"field":"row","type":"nominal","axis":null,"scale":{"type":"band","domain":["group header","column header","Chang 2015","Chen 2015","spacer","Total (95% CI)","Heterogeneity","Overall effect"],"range":[0,297.12],"paddingInner":0,"paddingOuter":0}}},"layer":[
    {"data":{"name":"header"},"transform":[{"filter":"datum.row=='column header'"}],"mark":{"type":"rule","color":"#000","strokeWidth":2},"encoding":{"y":{"field":"row","type":"nominal","axis":null,"bandPosition":0.85}}},
    {"data":{"name":"header"},"mark":{"type":"text","fontWeight":"bold","color":"#333"},"encoding":{"text":{"field":"plot","type":"nominal"}}},
    {"data":{"name":"header"},"transform":[{"filter":"datum.row=='column header'"}],"mark":{"type":"rule","color":"#000","strokeWidth":1.5},"encoding":{"x":{"datum":0,"type":"quantitative","scale":{"domain":[-7.25,7.25],"nice":false,"zero":false}},"y":{"field":"row","type":"nominal","axis":null,"bandPosition":0.85},"y2":{"value":"height"}}},
    {"data":{"name":"studies"},"transform":[{"filter":"datum.panel=='C'"}],"mark":{"type":"rule","color":"#222","strokeWidth":2},"encoding":{"x":{"field":"lo","type":"quantitative","scale":{"domain":[-7.25,7.25],"nice":false,"zero":false},"axis":{"values":[-4,-2,0,2,4],"labelExpr":"''+datum.value","title":"Favours [experimental]\u00a0\u00a0\u00a0Favours [control]","titleX":305.7,"titleY":45}},"x2":{"field":"hi"},"y":{"field":"row","type":"nominal","axis":null,"bandPosition":0.33}}},
    {"data":{"name":"studies"},"transform":[{"filter":"datum.panel=='C'"}],"mark":{"type":"point","shape":"square","filled":true,"color":"#00c000","opacity":1,"strokeWidth":0},"encoding":{"x":{"field":"md","type":"quantitative","scale":{"domain":[-7.25,7.25],"nice":false,"zero":false}},"y":{"field":"row","type":"nominal","axis":null,"bandPosition":0.33},"size":{"field":"weight","type":"quantitative","scale":{"type":"pow","exponent":2,"domain":[0,1],"range":[0,2209]},"legend":null}}},
    {"data":{"name":"totals"},"transform":[{"filter":"datum.panel=='C'"},{"fold":["lo","md","hi"],"as":["vertex","x"]}],"mark":{"type":"trail","color":"#000"},"encoding":{"x":{"field":"x","type":"quantitative","scale":{"domain":[-7.25,7.25],"nice":false,"zero":false}},"y":{"field":"row","type":"nominal","axis":null,"bandPosition":0.3},"size":{"field":"vertex","type":"nominal","scale":{"type":"ordinal","domain":["lo","md","hi"],"range":[0,32,0]},"legend":null}}},
    {"data":{"values":[{"tick":-4},{"tick":-2},{"tick":0},{"tick":2},{"tick":4}]},"mark":{"type":"tick","orient":"vertical","color":"#000","thickness":2,"size":10,"yOffset":-5},"encoding":{"x":{"field":"tick","type":"quantitative","scale":{"domain":[-7.25,7.25],"nice":false,"zero":false}},"y":{"value":"height"}}}]},
  {"width":25,"height":297.12,"data":{"name":"header"},"transform":[{"filter":"datum.row=='column header'"}],"mark":{"type":"rule","color":"#000","strokeWidth":2},"encoding":{"y":{"field":"row","type":"nominal","axis":null,"bandPosition":0.85,"scale":{"type":"band","domain":["group header","column header","Chang 2015","Chen 2015","spacer","Total (95% CI)","Heterogeneity","Overall effect"],"range":[0,297.12],"paddingInner":0,"paddingOuter":0}}}}
 ]
},
{
 "title":{"text":"D：Depression scores at 2-week follow-up","offset":61.8},
 "spacing":0,"bounds":"flush",
 "hconcat":[
  {"width":23,"height":297.12,"data":{"name":"header"},"transform":[{"filter":"datum.row=='column header'"}],"mark":{"type":"rule","color":"#000","strokeWidth":2},"encoding":{"y":{"field":"row","type":"nominal","axis":null,"bandPosition":0.85,"scale":{"type":"band","domain":["group header","column header","Chang 2015","Chen 2015","spacer","Total (95% CI)","Heterogeneity","Overall effect"],"range":[0,297.12],"paddingInner":0,"paddingOuter":0}}}},
  {"width":264,"height":297.12,"encoding":{"y":{"field":"row","type":"nominal","axis":null,"scale":{"type":"band","domain":["group header","column header","Chang 2015","Chen 2015","spacer","Total (95% CI)","Heterogeneity","Overall effect"],"range":[0,297.12],"paddingInner":0,"paddingOuter":0}}},"layer":[
    {"data":{"name":"header"},"transform":[{"filter":"datum.row=='column header'"}],"mark":{"type":"rule","color":"#000","strokeWidth":2},"encoding":{"y":{"field":"row","type":"nominal","axis":null,"bandPosition":0.85}}},
    {"data":{"name":"header"},"mark":{"type":"text","align":"left","fontWeight":"bold","color":"#333"},"encoding":{"x":{"value":0},"text":{"field":"study","type":"nominal"}}},
    {"data":{"name":"studies"},"transform":[{"filter":"datum.panel=='D'"}],"mark":{"type":"text","align":"left"},"encoding":{"x":{"value":0},"text":{"field":"row","type":"nominal"}}},
    {"data":{"name":"totals"},"transform":[{"filter":"datum.panel=='D'"}],"mark":{"type":"text","align":"left","fontWeight":"bold","color":"#333"},"encoding":{"x":{"value":0},"text":{"field":"row","type":"nominal"}}},
    {"data":{"name":"notes"},"transform":[{"filter":"datum.panel=='D'"}],"mark":{"type":"text","align":"left"},"encoding":{"x":{"value":0},"text":{"field":"text","type":"nominal"}}}]},
  {"width":94,"height":297.12,"encoding":{"y":{"field":"row","type":"nominal","axis":null,"scale":{"type":"band","domain":["group header","column header","Chang 2015","Chen 2015","spacer","Total (95% CI)","Heterogeneity","Overall effect"],"range":[0,297.12],"paddingInner":0,"paddingOuter":0}}},"layer":[
    {"data":{"name":"header"},"transform":[{"filter":"datum.row=='column header'"}],"mark":{"type":"rule","color":"#000","strokeWidth":2},"encoding":{"y":{"field":"row","type":"nominal","axis":null,"bandPosition":0.85}}},
    {"data":{"name":"header"},"transform":[{"filter":"datum.row=='column header'"}],"mark":{"type":"text","align":"right","fontWeight":"bold","color":"#333"},"encoding":{"x":{"value":"width"},"text":{"field":"e_mean","type":"nominal"}}},
    {"data":{"name":"studies"},"transform":[{"filter":"datum.panel=='D'"}],"mark":{"type":"text","align":"right"},"encoding":{"x":{"value":"width"},"text":{"field":"e_mean","type":"nominal"}}}]},
  {"width":93,"height":297.12,"encoding":{"y":{"field":"row","type":"nominal","axis":null,"scale":{"type":"band","domain":["group header","column header","Chang 2015","Chen 2015","spacer","Total (95% CI)","Heterogeneity","Overall effect"],"range":[0,297.12],"paddingInner":0,"paddingOuter":0}}},"layer":[
    {"data":{"name":"header"},"transform":[{"filter":"datum.row=='column header'"}],"mark":{"type":"rule","color":"#000","strokeWidth":2},"encoding":{"y":{"field":"row","type":"nominal","axis":null,"bandPosition":0.85}}},
    {"data":{"name":"header"},"transform":[{"filter":"datum.row=='group header'"}],"mark":{"type":"text","fontWeight":"bold","color":"#333"},"encoding":{"text":{"field":"e_sd","type":"nominal"}}},
    {"data":{"name":"header"},"transform":[{"filter":"datum.row=='column header'"}],"mark":{"type":"text","align":"right","fontWeight":"bold","color":"#333"},"encoding":{"x":{"value":"width"},"text":{"field":"e_sd","type":"nominal"}}},
    {"data":{"name":"studies"},"transform":[{"filter":"datum.panel=='D'"}],"mark":{"type":"text","align":"right"},"encoding":{"x":{"value":"width"},"text":{"field":"e_sd","type":"nominal"}}}]},
  {"width":87,"height":297.12,"encoding":{"y":{"field":"row","type":"nominal","axis":null,"scale":{"type":"band","domain":["group header","column header","Chang 2015","Chen 2015","spacer","Total (95% CI)","Heterogeneity","Overall effect"],"range":[0,297.12],"paddingInner":0,"paddingOuter":0}}},"layer":[
    {"data":{"name":"header"},"transform":[{"filter":"datum.row=='column header'"}],"mark":{"type":"rule","color":"#000","strokeWidth":2},"encoding":{"y":{"field":"row","type":"nominal","axis":null,"bandPosition":0.85}}},
    {"data":{"name":"header"},"transform":[{"filter":"datum.row=='column header'"}],"mark":{"type":"text","align":"right","fontWeight":"bold","color":"#333"},"encoding":{"x":{"value":"width"},"text":{"field":"e_total","type":"nominal"}}},
    {"data":{"name":"studies"},"transform":[{"filter":"datum.panel=='D'"}],"mark":{"type":"text","align":"right"},"encoding":{"x":{"value":"width"},"text":{"field":"e_total","type":"nominal"}}},
    {"data":{"name":"totals"},"transform":[{"filter":"datum.panel=='D'"}],"mark":{"type":"text","align":"right","fontWeight":"bold","color":"#333"},"encoding":{"x":{"value":"width"},"text":{"field":"e_total","type":"nominal"}}}]},
  {"width":93,"height":297.12,"encoding":{"y":{"field":"row","type":"nominal","axis":null,"scale":{"type":"band","domain":["group header","column header","Chang 2015","Chen 2015","spacer","Total (95% CI)","Heterogeneity","Overall effect"],"range":[0,297.12],"paddingInner":0,"paddingOuter":0}}},"layer":[
    {"data":{"name":"header"},"transform":[{"filter":"datum.row=='column header'"}],"mark":{"type":"rule","color":"#000","strokeWidth":2},"encoding":{"y":{"field":"row","type":"nominal","axis":null,"bandPosition":0.85}}},
    {"data":{"name":"header"},"transform":[{"filter":"datum.row=='column header'"}],"mark":{"type":"text","align":"right","fontWeight":"bold","color":"#333"},"encoding":{"x":{"value":"width"},"text":{"field":"c_mean","type":"nominal"}}},
    {"data":{"name":"studies"},"transform":[{"filter":"datum.panel=='D'"}],"mark":{"type":"text","align":"right"},"encoding":{"x":{"value":"width"},"text":{"field":"c_mean","type":"nominal"}}}]},
  {"width":95,"height":297.12,"encoding":{"y":{"field":"row","type":"nominal","axis":null,"scale":{"type":"band","domain":["group header","column header","Chang 2015","Chen 2015","spacer","Total (95% CI)","Heterogeneity","Overall effect"],"range":[0,297.12],"paddingInner":0,"paddingOuter":0}}},"layer":[
    {"data":{"name":"header"},"transform":[{"filter":"datum.row=='column header'"}],"mark":{"type":"rule","color":"#000","strokeWidth":2},"encoding":{"y":{"field":"row","type":"nominal","axis":null,"bandPosition":0.85}}},
    {"data":{"name":"header"},"transform":[{"filter":"datum.row=='group header'"}],"mark":{"type":"text","fontWeight":"bold","color":"#333"},"encoding":{"text":{"field":"c_sd","type":"nominal"}}},
    {"data":{"name":"header"},"transform":[{"filter":"datum.row=='column header'"}],"mark":{"type":"text","align":"right","fontWeight":"bold","color":"#333"},"encoding":{"x":{"value":"width"},"text":{"field":"c_sd","type":"nominal"}}},
    {"data":{"name":"studies"},"transform":[{"filter":"datum.panel=='D'"}],"mark":{"type":"text","align":"right"},"encoding":{"x":{"value":"width"},"text":{"field":"c_sd","type":"nominal"}}}]},
  {"width":86,"height":297.12,"encoding":{"y":{"field":"row","type":"nominal","axis":null,"scale":{"type":"band","domain":["group header","column header","Chang 2015","Chen 2015","spacer","Total (95% CI)","Heterogeneity","Overall effect"],"range":[0,297.12],"paddingInner":0,"paddingOuter":0}}},"layer":[
    {"data":{"name":"header"},"transform":[{"filter":"datum.row=='column header'"}],"mark":{"type":"rule","color":"#000","strokeWidth":2},"encoding":{"y":{"field":"row","type":"nominal","axis":null,"bandPosition":0.85}}},
    {"data":{"name":"header"},"transform":[{"filter":"datum.row=='column header'"}],"mark":{"type":"text","align":"right","fontWeight":"bold","color":"#333"},"encoding":{"x":{"value":"width"},"text":{"field":"c_total","type":"nominal"}}},
    {"data":{"name":"studies"},"transform":[{"filter":"datum.panel=='D'"}],"mark":{"type":"text","align":"right"},"encoding":{"x":{"value":"width"},"text":{"field":"c_total","type":"nominal"}}},
    {"data":{"name":"totals"},"transform":[{"filter":"datum.panel=='D'"}],"mark":{"type":"text","align":"right","fontWeight":"bold","color":"#333"},"encoding":{"x":{"value":"width"},"text":{"field":"c_total","type":"nominal"}}}]},
  {"width":116,"height":297.12,"encoding":{"y":{"field":"row","type":"nominal","axis":null,"scale":{"type":"band","domain":["group header","column header","Chang 2015","Chen 2015","spacer","Total (95% CI)","Heterogeneity","Overall effect"],"range":[0,297.12],"paddingInner":0,"paddingOuter":0}}},"layer":[
    {"data":{"name":"header"},"transform":[{"filter":"datum.row=='column header'"}],"mark":{"type":"rule","color":"#000","strokeWidth":2},"encoding":{"y":{"field":"row","type":"nominal","axis":null,"bandPosition":0.85}}},
    {"data":{"name":"header"},"transform":[{"filter":"datum.row=='column header'"}],"mark":{"type":"text","align":"right","fontWeight":"bold","color":"#333"},"encoding":{"x":{"value":"width"},"text":{"field":"weight","type":"nominal"}}},
    {"data":{"name":"studies"},"transform":[{"filter":"datum.panel=='D'"}],"mark":{"type":"text","align":"right"},"encoding":{"x":{"value":"width"},"text":{"field":"weight","type":"quantitative","format":".1%"}}},
    {"data":{"name":"totals"},"transform":[{"filter":"datum.panel=='D'"}],"mark":{"type":"text","align":"right","fontWeight":"bold","color":"#333"},"encoding":{"x":{"value":"width"},"text":{"field":"weight","type":"quantitative","format":".1%"}}}]},
  {"width":256,"height":297.12,"encoding":{"y":{"field":"row","type":"nominal","axis":null,"scale":{"type":"band","domain":["group header","column header","Chang 2015","Chen 2015","spacer","Total (95% CI)","Heterogeneity","Overall effect"],"range":[0,297.12],"paddingInner":0,"paddingOuter":0}}},"layer":[
    {"data":{"name":"header"},"transform":[{"filter":"datum.row=='column header'"}],"mark":{"type":"rule","color":"#000","strokeWidth":2},"encoding":{"y":{"field":"row","type":"nominal","axis":null,"bandPosition":0.85}}},
    {"data":{"name":"header"},"transform":[{"filter":"datum.row=='group header'"}],"mark":{"type":"text","fontWeight":"bold","color":"#333"},"encoding":{"text":{"field":"ci","type":"nominal"}}},
    {"data":{"name":"header"},"transform":[{"filter":"datum.row=='column header'"}],"mark":{"type":"text","align":"right","fontWeight":"bold","color":"#333"},"encoding":{"x":{"value":"width"},"text":{"field":"ci","type":"nominal"}}},
    {"data":{"name":"studies"},"transform":[{"filter":"datum.panel=='D'"}],"mark":{"type":"text","align":"right"},"encoding":{"x":{"value":"width"},"text":{"field":"ci","type":"nominal"}}},
    {"data":{"name":"totals"},"transform":[{"filter":"datum.panel=='D'"}],"mark":{"type":"text","align":"right","fontWeight":"bold","color":"#333"},"encoding":{"x":{"value":"width"},"text":{"field":"ci","type":"nominal"}}}]},
  {"width":24,"height":297.12,"data":{"name":"header"},"transform":[{"filter":"datum.row=='column header'"}],"mark":{"type":"rule","color":"#000","strokeWidth":2},"encoding":{"y":{"field":"row","type":"nominal","axis":null,"bandPosition":0.85,"scale":{"type":"band","domain":["group header","column header","Chang 2015","Chen 2015","spacer","Total (95% CI)","Heterogeneity","Overall effect"],"range":[0,297.12],"paddingInner":0,"paddingOuter":0}}}},
  {"width":690,"height":234,"resolve":{"scale":{"size":"independent"}},"encoding":{"y":{"field":"row","type":"nominal","axis":null,"scale":{"type":"band","domain":["group header","column header","Chang 2015","Chen 2015","spacer","Total (95% CI)","Heterogeneity","Overall effect"],"range":[0,297.12],"paddingInner":0,"paddingOuter":0}}},"layer":[
    {"data":{"name":"header"},"transform":[{"filter":"datum.row=='column header'"}],"mark":{"type":"rule","color":"#000","strokeWidth":2},"encoding":{"y":{"field":"row","type":"nominal","axis":null,"bandPosition":0.85}}},
    {"data":{"name":"header"},"mark":{"type":"text","fontWeight":"bold","color":"#333"},"encoding":{"text":{"field":"plot","type":"nominal"}}},
    {"data":{"name":"header"},"transform":[{"filter":"datum.row=='column header'"}],"mark":{"type":"rule","color":"#000","strokeWidth":1.5},"encoding":{"x":{"datum":0,"type":"quantitative","scale":{"domain":[-6.2,6.2],"nice":false,"zero":false}},"y":{"field":"row","type":"nominal","axis":null,"bandPosition":0.85},"y2":{"value":"height"}}},
    {"data":{"name":"studies"},"transform":[{"filter":"datum.panel=='D'"}],"mark":{"type":"rule","color":"#222","strokeWidth":2},"encoding":{"x":{"field":"lo","type":"quantitative","scale":{"domain":[-6.2,6.2],"nice":false,"zero":false},"axis":{"values":[-4,-2,0,2,4],"labelExpr":"''+datum.value","title":"Favours [experimental]\u00a0\u00a0\u00a0Favours [control]","titleX":305,"titleY":45}},"x2":{"field":"hi"},"y":{"field":"row","type":"nominal","axis":null,"bandPosition":0.33}}},
    {"data":{"name":"studies"},"transform":[{"filter":"datum.panel=='D'"}],"mark":{"type":"point","shape":"square","filled":true,"color":"#00c000","opacity":1,"strokeWidth":0},"encoding":{"x":{"field":"md","type":"quantitative","scale":{"domain":[-6.2,6.2],"nice":false,"zero":false}},"y":{"field":"row","type":"nominal","axis":null,"bandPosition":0.33},"size":{"field":"weight","type":"quantitative","scale":{"type":"pow","exponent":2,"domain":[0,1],"range":[0,2209]},"legend":null}}},
    {"data":{"name":"totals"},"transform":[{"filter":"datum.panel=='D'"},{"fold":["lo","md","hi"],"as":["vertex","x"]}],"mark":{"type":"trail","color":"#000"},"encoding":{"x":{"field":"x","type":"quantitative","scale":{"domain":[-6.2,6.2],"nice":false,"zero":false}},"y":{"field":"row","type":"nominal","axis":null,"bandPosition":0.3},"size":{"field":"vertex","type":"nominal","scale":{"type":"ordinal","domain":["lo","md","hi"],"range":[0,32,0]},"legend":null}}},
    {"data":{"values":[{"tick":-4},{"tick":-2},{"tick":0},{"tick":2},{"tick":4}]},"mark":{"type":"tick","orient":"vertical","color":"#000","thickness":2,"size":10,"yOffset":-5},"encoding":{"x":{"field":"tick","type":"quantitative","scale":{"domain":[-6.2,6.2],"nice":false,"zero":false}},"y":{"value":"height"}}}]},
  {"width":25,"height":297.12,"data":{"name":"header"},"transform":[{"filter":"datum.row=='column header'"}],"mark":{"type":"rule","color":"#000","strokeWidth":2},"encoding":{"y":{"field":"row","type":"nominal","axis":null,"bandPosition":0.85,"scale":{"type":"band","domain":["group header","column header","Chang 2015","Chen 2015","spacer","Total (95% CI)","Heterogeneity","Overall effect"],"range":[0,297.12],"paddingInner":0,"paddingOuter":0}}}}
 ]
}
]}
]}
]
}
